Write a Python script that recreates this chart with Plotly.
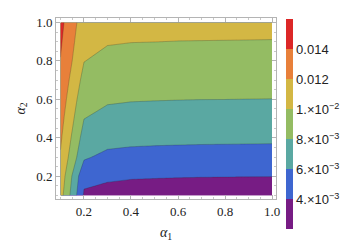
import plotly.graph_objects as go

# grid coordinates
alpha1 = [0.1, 0.2, 0.3, 0.4, 0.5, 0.6, 0.7, 0.8, 0.9, 1.0]
alpha2 = [0.1, 0.2, 0.3, 0.4, 0.5, 0.6, 0.7, 0.8, 0.9, 1.0]

# values, one row per alpha2 value (columns follow alpha1)
row_a2_01 = [0.0108, 0.0038, 0.00296, 0.00264, 0.00253, 0.00244, 0.00239, 0.00236, 0.00232, 0.00229]
row_a2_02 = [0.01132, 0.0044, 0.00447, 0.00426, 0.00419, 0.00413, 0.00409, 0.00407, 0.00405, 0.00403]
row_a2_03 = [0.01183, 0.0063, 0.0054, 0.00547, 0.00541, 0.00537, 0.00534, 0.00532, 0.00531, 0.00529]
row_a2_04 = [0.01228, 0.0072, 0.0069, 0.00646, 0.00641, 0.00638, 0.00635, 0.00634, 0.00632, 0.00631]
row_a2_05 = [0.01269, 0.00802, 0.00746, 0.00733, 0.00729, 0.00726, 0.00724, 0.00722, 0.00721, 0.0072]
row_a2_06 = [0.01311, 0.00869, 0.00821, 0.0081, 0.00806, 0.00803, 0.00801, 0.008005, 0.00799, 0.00798]
row_a2_07 = [0.01352, 0.00937, 0.0089, 0.0088, 0.00876, 0.00874, 0.00872, 0.00871, 0.0087, 0.00869]
row_a2_08 = [0.01394, 0.01004, 0.00953, 0.00944, 0.00941, 0.00938, 0.00937, 0.00936, 0.00935, 0.00934]
row_a2_09 = [0.01425, 0.0105, 0.01012, 0.01003, 0.01001, 0.00998, 0.00997, 0.00996, 0.00995, 0.00994]
row_a2_10 = [0.01455, 0.0109, 0.01067, 0.01059, 0.01056, 0.01054, 0.01052, 0.01052, 0.01051, 0.0105]

# contour levels / colour bar labels
level_start, level_end, level_step = 0.002, 0.016, 0.002
z_low, z_high = 0.002, 0.016
cbar_vals = [0.004, 0.006, 0.008, 0.010, 0.012, 0.014]
cbar_text = ["4.×10<sup>−3</sup>", "6.×10<sup>−3</sup>", "8.×10<sup>−3</sup>",
             "1.×10<sup>−2</sup>", "0.012", "0.014"]
x_ticks = [0.2, 0.4, 0.6, 0.8, 1.0]
x_ticktext = ["0.2", "0.4", "0.6", "0.8", "1.0"]
y_ticks = [0.2, 0.4, 0.6, 0.8, 1.0]
y_ticktext = ["0.2", "0.4", "0.6", "0.8", "1.0"]

band_colors = ["#771c84", "#3e66d0", "#5aa8a2", "#94bc63", "#d3b744", "#e8803a", "#dc2727"]

z = [row_a2_01, row_a2_02, row_a2_03, row_a2_04, row_a2_05,
     row_a2_06, row_a2_07, row_a2_08, row_a2_09, row_a2_10]

# contour fill colour scale: 8 levels -> band colours sampled at s = k/8
edges = [0.0, 0.1875, 0.3125, 0.4375, 0.5625, 0.6875, 0.8125, 1.0]
fill_scale = []
for i, c in enumerate(band_colors):
    fill_scale.append([edges[i], c])
    fill_scale.append([edges[i + 1], c])

# colour bar scale: 7 equal bands over [z_low, z_high]
nb = len(band_colors)
bar_scale = []
for i, c in enumerate(band_colors):
    bar_scale.append([i / nb, c])
    bar_scale.append([(i + 1) / nb, c])

W, H = 353, 241
L, R, T, B = 48, 268, 7, 191
PW, PH = R - L, B - T

fig = go.Figure()
fig.add_trace(go.Contour(
    x=alpha1, y=alpha2, z=z,
    autocontour=False,
    contours=dict(start=level_start, end=level_end, size=level_step, coloring="fill"),
    colorscale=fill_scale,
    showscale=False,
    line=dict(color="rgba(40,40,40,0.35)", width=0.7, smoothing=0),
    hoverinfo="skip",
))

# colour bar carrier (no visible marks)
fig.add_trace(go.Scatter(
    x=[None], y=[None], mode="markers", hoverinfo="skip", showlegend=False,
    marker=dict(
        color=[z_low], cmin=z_low, cmax=z_high, colorscale=bar_scale, showscale=True,
        colorbar=dict(
            xref="paper", yref="paper",
            x=(278 - L) / PW, xanchor="left", xpad=0,
            y=(B - 222) / PH, yanchor="bottom", ypad=0,
            lenmode="pixels", len=210,
            thickness=7, outlinewidth=0,
            tickvals=cbar_vals, ticktext=cbar_text,
            ticks="", ticklen=1, ticklabelposition="outside",
            tickfont=dict(family="Liberation Sans", size=13, color="#222"),
        ),
    ),
))

axis_common = dict(
    showgrid=False, zeroline=False,
    showline=True, linecolor="#b4b4b4", linewidth=1, mirror="ticks",
    ticks="inside", ticklen=4, tickcolor="#b4b4b4", tickwidth=1,
    minor=dict(ticks="inside", ticklen=2, tickcolor="#c8c8c8", dtick=0.05, tick0=0),
    tickfont=dict(family="Liberation Serif", size=13, color="#222"),
)

fig.update_layout(
    width=W, height=H,
    margin=dict(l=L, r=W - R, t=T, b=H - B, pad=0),
    paper_bgcolor="white", plot_bgcolor="white",
    showlegend=False,
    xaxis=dict(range=[0.0809, 1.017], tickvals=x_ticks, ticktext=x_ticktext, **axis_common),
    yaxis=dict(range=[0.082, 1.023], tickvals=y_ticks, ticktext=y_ticktext, **axis_common),
    annotations=[
        dict(text="<i>α</i><sub>1</sub>", xref="paper", yref="paper", x=0.5, y=0,
             yshift=-34, showarrow=False, xanchor="center", yanchor="middle",
             font=dict(family="Liberation Serif", size=14, color="#222")),
        dict(text="<i>α</i><sub>2</sub>", xref="paper", yref="paper", x=0, y=0.5,
             xshift=-35, showarrow=False, xanchor="center", yanchor="middle",
             textangle=-90,
             font=dict(family="Liberation Serif", size=14, color="#222")),
    ],
)

fig.write_html("out.html")
